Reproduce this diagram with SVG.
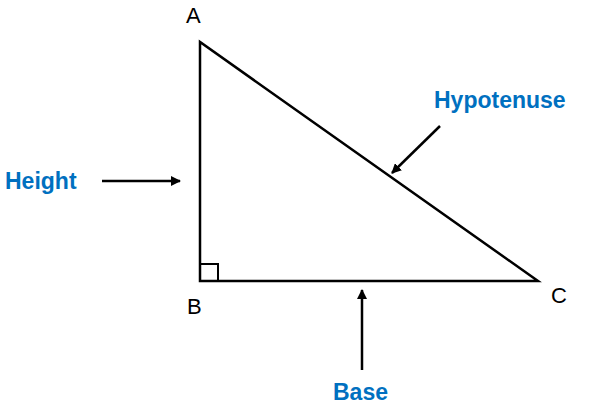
<svg xmlns="http://www.w3.org/2000/svg" width="600" height="413" viewBox="0 0 600 413">
<defs>
<style>
.lbl{font-family:"Liberation Sans",Arial,sans-serif;font-size:22px;fill:#000}
.blue{font-family:"Liberation Sans",Arial,sans-serif;font-size:23px;font-weight:bold;fill:#0070C0}
.ln{stroke:#000;stroke-width:2.5;fill:none}
.ar{stroke:#000;stroke-width:2.5;fill:none;marker-end:url(#ah)}
</style>
<marker id="ah" viewBox="0 0 10 10" refX="9" refY="5" markerWidth="4" markerHeight="4" orient="auto"><path d="M0,0L10,5L0,10z" fill="#000"/></marker>
</defs>
<rect width="600" height="413" fill="#fff"/>
<g id="triangle">
<path class="ln" d="M200,42 L200,281 L538,281 Z"/>
<rect class="ln" x="200" y="264" width="18" height="17" style="stroke-width:2"/>
</g>
<g id="A"><text class="lbl" x="186" y="23">A</text></g>
<g id="B"><text class="lbl" x="187" y="314">B</text></g>
<g id="C"><text class="lbl" x="551" y="303">C</text></g>
<g id="height"><text class="blue" x="5" y="189">Height</text></g>
<g id="hypotenuse"><text class="blue" x="434" y="108">Hypotenuse</text></g>
<g id="base"><text class="blue" x="333" y="400">Base</text></g>
<g id="connectors">
<line class="ar" x1="102" y1="181" x2="180" y2="181"/>
<line class="ar" x1="440" y1="126" x2="392" y2="173"/>
<line class="ar" x1="362" y1="370" x2="362" y2="290"/>
</g>
</svg>
